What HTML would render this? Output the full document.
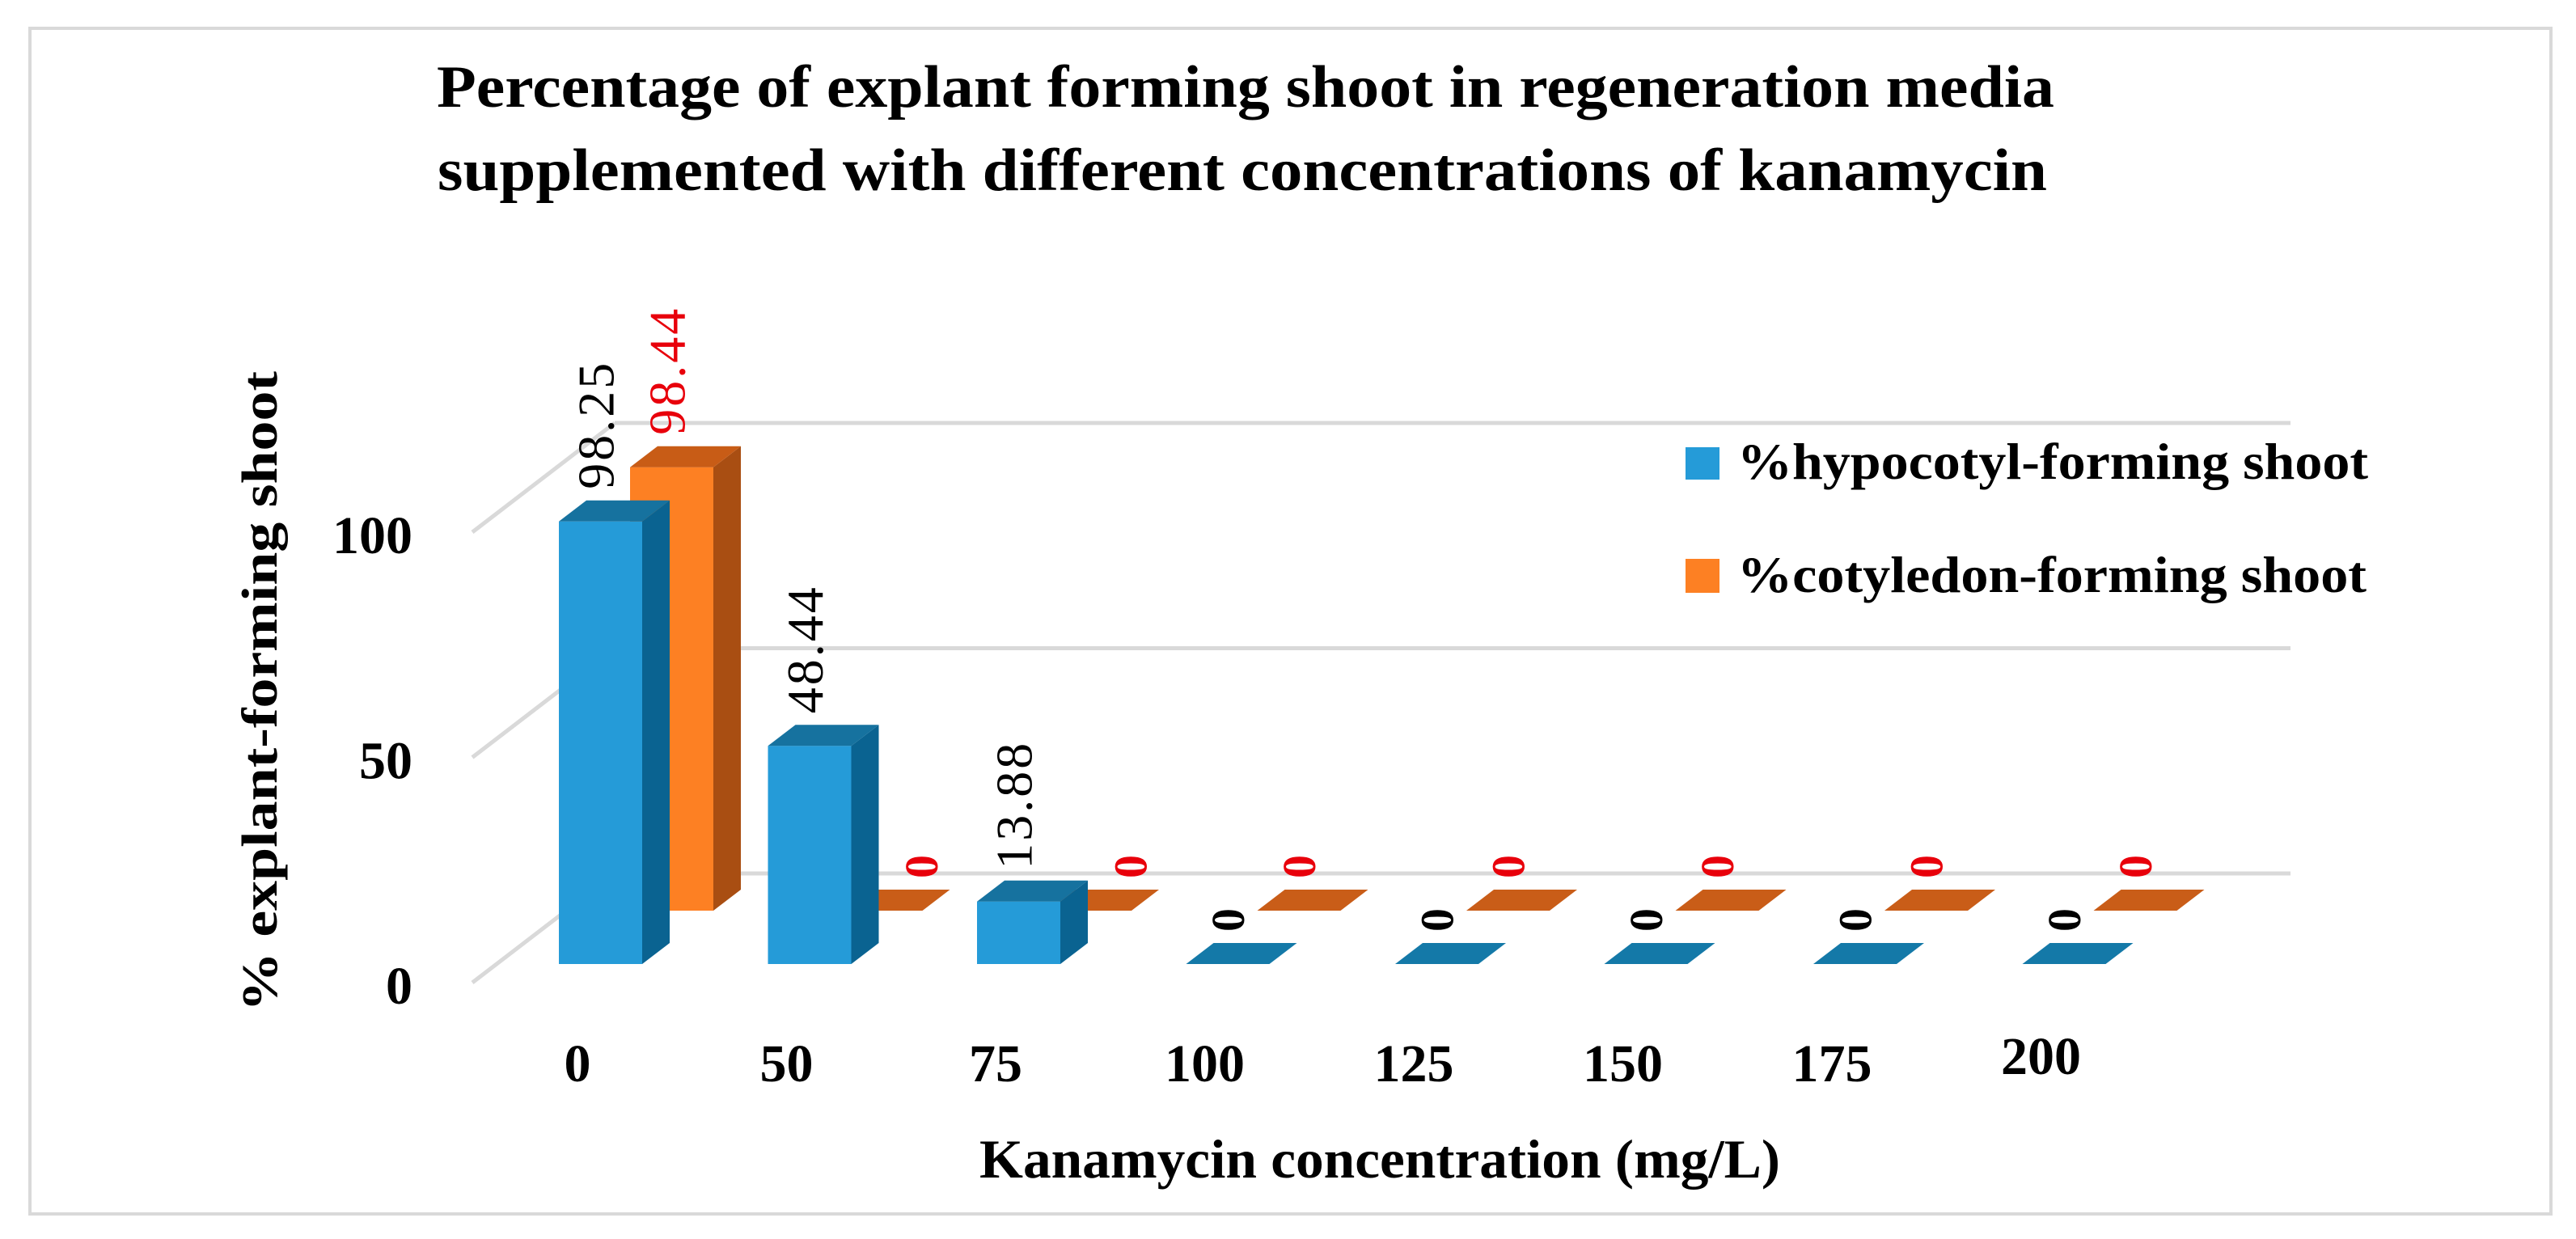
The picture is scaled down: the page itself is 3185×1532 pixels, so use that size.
<!DOCTYPE html>
<html><head><meta charset="utf-8"><style>
html,body{margin:0;padding:0;background:#fff}
svg{display:block}
</style></head><body>
<svg id="chart" width="3185" height="1532" viewBox="0 0 3185 1532" xmlns="http://www.w3.org/2000/svg" font-family="'Liberation Serif', serif">
<rect x="37" y="35" width="3117" height="1466" fill="#fff" stroke="#d9d9d9" stroke-width="4"/>
<g font-weight="bold" font-size="74" fill="#000" text-anchor="middle">
<text x="1540" y="132" textLength="2000" lengthAdjust="spacingAndGlyphs">Percentage of explant forming shoot in regeneration media</text>
<text x="1536" y="235" textLength="1990" lengthAdjust="spacingAndGlyphs">supplemented with different concentrations of kanamycin</text>
</g>
<g id="grid"></g>
<g id="yticks"></g>
<g id="bars"></g>
<g id="labels"></g>
<g id="xticks"></g>
<text transform="translate(342,1251) rotate(-90)" font-size="62" font-weight="bold" textLength="792" lengthAdjust="spacingAndGlyphs">% explant-forming shoot</text>
<text x="1211" y="1456" font-size="68" font-weight="bold" textLength="990" lengthAdjust="spacingAndGlyphs">Kanamycin concentration (mg/L)</text>
<g>
<g>
<rect x="2084" y="553" width="42" height="40" fill="#259bd8"/>
<text x="2148" y="592" font-size="64" font-weight="bold" textLength="780" lengthAdjust="spacingAndGlyphs">%hypocotyl-forming shoot</text>
</g>
<g>
<rect x="2084" y="691" width="42" height="42" fill="#fd8023"/>
<text x="2148" y="732" font-size="64" font-weight="bold" textLength="778" lengthAdjust="spacingAndGlyphs">%cotyledon-forming shoot</text>
</g>
</g>
</svg>
<script>
const categories = ["0","50","75","100","125","150","175","200"];
const hypocotylValues = [98.25, 48.44, 13.88, 0, 0, 0, 0, 0];
const cotyledonValues = [98.44, 0, 0, 0, 0, 0, 0, 0];
const hypocotylLabels = ["98.25","48.44","13.88","0","0","0","0","0"];
const cotyledonLabels = ["98.44","0","0","0","0","0","0","0"];
const yTicks = [0, 50, 100];

const NS = "http://www.w3.org/2000/svg";
const SCALE = 5.57;
const FRONT_FLOOR = 1192, BACK_FLOOR = 1080;
const X0 = 691, STEP = 258.5, BW = 103, DX = 34, DY = 26, ROWDX = 88, ROWDY = 66;
function xPos(i){ return X0 + i*STEP; }
function yFront(v){ return FRONT_FLOOR - v*SCALE; }
function yBack(v){ return BACK_FLOOR - v*SCALE; }
function mk(tag, attrs, parent){ const e=document.createElementNS(NS,tag); for(const k in attrs) e.setAttribute(k,attrs[k]); parent.appendChild(e); return e; }

const grid = document.getElementById('grid');
const yt = document.getElementById('yticks');
yTicks.forEach(v=>{
  const g = mk('line',{x1:760,x2:2832,y1:yBack(v),y2:yBack(v),stroke:'#d9d9d9','stroke-width':5},grid);
  
  
  const d = mk('line',{x1:584,y1:yBack(v)+135,x2:760,y2:yBack(v),stroke:'#d9d9d9','stroke-width':5},grid);
  
  
  const t = mk('text',{x:510,y:yFront(v)+49,'text-anchor':'end','font-size':66,'font-weight':'bold'},yt);
  t.textContent = String(v);
  
  
});

const bars = document.getElementById('bars');
const labelsG = document.getElementById('labels');
function drawBar(i, v, floor, xl, cols, label, labelColor, name, hiddenShift){
  const g = mk('g',{},bars);
  
  
  const top = floor - v*SCALE, xr = xl+BW;
  if (v > 0) {
    mk('rect',{x:xl,y:top,width:BW,height:floor-top,fill:cols[0]},g);
    mk('polygon',{points:`${xr},${top} ${xr+DX},${top-DY} ${xr+DX},${floor-DY} ${xr},${floor}`,fill:cols[1]},g);
  }
  mk('polygon',{points:`${xl},${top} ${xr},${top} ${xr+DX},${top-DY} ${xl+DX},${top-DY}`,fill:cols[2]},g);
  const isZero = v===0;
  const ly = top - DY - 14, lx = xl + BW/2 + (isZero?hiddenShift:-4);
  const t = mk('text',{transform:`translate(${lx+20},${ly}) rotate(-90)`,'font-size':isZero?58:64,'font-weight':isZero?'bold':'normal',fill:labelColor,'letter-spacing':isZero?0:3},labelsG);
  t.textContent = label;
  
  
}
cotyledonValues.forEach((v,i)=>{
  const shift = (v===0 && hypocotylValues[i] > 0) ? 50 : 0;
  drawBar(i, v, FRONT_FLOOR-ROWDY, xPos(i)+ROWDX, ['#fd8023','#a94e12', v>0?'#c85c16':'#c95d18'], cotyledonLabels[i], '#e8000b', 'bar-cotyledon-'+categories[i], shift);
});
hypocotylValues.forEach((v,i)=>{
  drawBar(i, v, FRONT_FLOOR, xPos(i), ['#259bd8','#0a6391', v>0?'#16729f':'#1479a8'], hypocotylLabels[i], '#000', 'bar-hypocotyl-'+categories[i], 0);
});

const xt = document.getElementById('xticks');
categories.forEach((c,i)=>{
  const t = mk('text',{x:xPos(i)+23,y:i===7?1328:1337,'text-anchor':'middle','font-size':66,'font-weight':'bold'},xt);
  t.textContent = c;
  
  
});
</script>
</body></html>
